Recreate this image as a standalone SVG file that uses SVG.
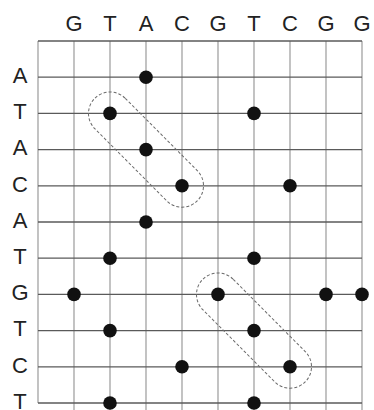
<svg xmlns="http://www.w3.org/2000/svg" width="374" height="410" viewBox="0 0 374 410">
  <style>
    .lbl { font-family: "Liberation Sans", Arial, sans-serif; font-size: 22px; fill: #222; text-anchor: middle; }
    .v { stroke: #a2a2a2; stroke-width: 1.3; }
    .h { stroke: #5a5a5a; stroke-width: 1.3; }
    .dot { fill: #111; }
    .band { fill: none; stroke: #6a6a6a; stroke-width: 1; stroke-dasharray: 3 2; }
  </style>
  <rect width="374" height="410" fill="#fff"/>

  <!-- dot-plot grid -->
  <g id="grid">
    <g id="columns">
      <line class="v" x1="38" y1="41" x2="38" y2="403"/>
      <line class="v" x1="74" y1="41" x2="74" y2="410"/>
      <line class="v" x1="110" y1="41" x2="110" y2="410"/>
      <line class="v" x1="146" y1="41" x2="146" y2="410"/>
      <line class="v" x1="182" y1="41" x2="182" y2="410"/>
      <line class="v" x1="218" y1="41" x2="218" y2="410"/>
      <line class="v" x1="254" y1="41" x2="254" y2="410"/>
      <line class="v" x1="290" y1="41" x2="290" y2="410"/>
      <line class="v" x1="326" y1="41" x2="326" y2="410"/>
      <line class="v" x1="362" y1="41" x2="362" y2="410"/>
    </g>
    <g id="rows">
      <line class="h" x1="38" y1="41" x2="362" y2="41"/>
      <line class="h" x1="38" y1="77.2" x2="362" y2="77.2"/>
      <line class="h" x1="38" y1="113.4" x2="362" y2="113.4"/>
      <line class="h" x1="38" y1="149.6" x2="362" y2="149.6"/>
      <line class="h" x1="38" y1="185.8" x2="362" y2="185.8"/>
      <line class="h" x1="38" y1="222" x2="362" y2="222"/>
      <line class="h" x1="38" y1="258.2" x2="362" y2="258.2"/>
      <line class="h" x1="38" y1="294.4" x2="362" y2="294.4"/>
      <line class="h" x1="38" y1="330.6" x2="362" y2="330.6"/>
      <line class="h" x1="38" y1="366.8" x2="362" y2="366.8"/>
      <line class="h" x1="38" y1="403" x2="362" y2="403"/>
    </g>
  </g>

  <!-- sequence along the top -->
  <g id="top-sequence">
    <text class="lbl" x="74" y="31">G</text>
    <text class="lbl" x="110" y="31">T</text>
    <text class="lbl" x="146" y="31">A</text>
    <text class="lbl" x="182" y="31">C</text>
    <text class="lbl" x="218" y="31">G</text>
    <text class="lbl" x="254" y="31">T</text>
    <text class="lbl" x="290" y="31">C</text>
    <text class="lbl" x="326" y="31">G</text>
    <text class="lbl" x="362" y="31">G</text>
  </g>

  <!-- sequence down the side -->
  <g id="side-sequence">
    <text class="lbl" x="20" y="83">A</text>
    <text class="lbl" x="20" y="119.2">T</text>
    <text class="lbl" x="20" y="155.4">A</text>
    <text class="lbl" x="20" y="191.6">C</text>
    <text class="lbl" x="20" y="227.8">A</text>
    <text class="lbl" x="20" y="264">T</text>
    <text class="lbl" x="20" y="300.2">G</text>
    <text class="lbl" x="20" y="336.4">T</text>
    <text class="lbl" x="20" y="372.6">C</text>
    <text class="lbl" x="20" y="408.8">T</text>
  </g>

  <!-- matches -->
  <g id="matches">
    <circle class="dot" cx="146" cy="77.2" r="6.8"/>
    <circle class="dot" cx="110" cy="113.4" r="6.8"/>
    <circle class="dot" cx="254" cy="113.4" r="6.8"/>
    <circle class="dot" cx="146" cy="149.6" r="6.8"/>
    <circle class="dot" cx="182" cy="185.8" r="6.8"/>
    <circle class="dot" cx="290" cy="185.8" r="6.8"/>
    <circle class="dot" cx="146" cy="222" r="6.8"/>
    <circle class="dot" cx="110" cy="258.2" r="6.8"/>
    <circle class="dot" cx="254" cy="258.2" r="6.8"/>
    <circle class="dot" cx="74" cy="294.4" r="6.8"/>
    <circle class="dot" cx="218" cy="294.4" r="6.8"/>
    <circle class="dot" cx="326" cy="294.4" r="6.8"/>
    <circle class="dot" cx="362" cy="294.4" r="6.8"/>
    <circle class="dot" cx="110" cy="330.6" r="6.8"/>
    <circle class="dot" cx="254" cy="330.6" r="6.8"/>
    <circle class="dot" cx="182" cy="366.8" r="6.8"/>
    <circle class="dot" cx="290" cy="366.8" r="6.8"/>
    <circle class="dot" cx="110" cy="403" r="6.8"/>
    <circle class="dot" cx="254" cy="403" r="6.8"/>
  </g>

  <!-- diagonal runs -->
  <g id="diagonal-1">
    <rect class="band" x="-72.5" y="-21.5" width="145" height="43" rx="21.5" transform="translate(146 149.6) rotate(45.1)"/>
  </g>
  <g id="diagonal-2">
    <rect class="band" x="-72.5" y="-21.5" width="145" height="43" rx="21.5" transform="translate(254 330.6) rotate(45.1)"/>
  </g>
</svg>
